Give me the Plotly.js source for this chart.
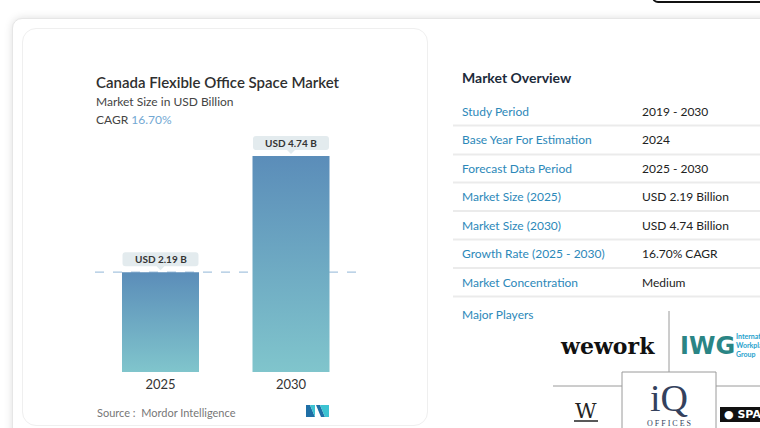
<!DOCTYPE html>
<html>
<head>
<meta charset="utf-8">
<script src="https://cdn.plot.ly/plotly-3.0.1.min.js"></script>
<style>
  html, body { margin: 0; padding: 0; background: #ffffff; overflow: hidden; }
  #page { position: relative; width: 760px; height: 428px; overflow: hidden; }
  .btn { position: absolute; left: 652px; top: -30px; width: 140px; height: 33px;
         border: 2px solid #111; border-radius: 6px; box-sizing: border-box; }
  .card { position: absolute; left: 12px; top: 18px; width: 820px; height: 520px;
          border: 1px solid #e6e6e6; border-radius: 10px; box-sizing: border-box;
          box-shadow: 0 0 9px rgba(0,0,0,0.13); background: #fff; }
  .inner { position: absolute; left: 22px; top: 28px; width: 406px; height: 398px;
           border: 1px solid #efefef; border-radius: 14px; box-sizing: border-box; background: #fff; }
  #chart { position: absolute; left: 0; top: 0; width: 760px; height: 428px; }
</style>
</head>
<body>
<div id="page">
  <div class="btn"></div>
  <div class="card"></div>
  <div class="inner"></div>
  <div id="chart"></div>
</div>
<script>
// Market size (USD billion) by year
const years = ['2025', '2030'];
const marketSize = [2.19, 4.74];
const cagrText = '16.70%';

// Market overview table
const overviewLabels = ['Study Period', 'Base Year For Estimation', 'Forecast Data Period',
  'Market Size (2025)', 'Market Size (2030)', 'Growth Rate (2025 - 2030)', 'Market Concentration'];
const overviewValues = ['2019 - 2030', '2024', '2025 - 2030',
  'USD 2.19 Billion', 'USD 4.74 Billion', '16.70% CAGR', 'Medium'];

const W = 760, H = 428;
const px = x => x / W;
const py = y => 1 - y / H;
const FONT = 'Lato, "Open Sans", sans-serif';

const annotations = [];
const shapes = [];

// left-anchored text; x is the visible left edge of the glyphs
function label(x, y, text, size, color, extra) {
  annotations.push(Object.assign({
    xref: 'paper', yref: 'paper', x: px(x - 2), y: py(y), text: text,
    showarrow: false, xanchor: 'left', yanchor: 'middle', align: 'left',
    font: { family: FONT, size: size, color: color }
  }, extra || {}));
}

// Chart heading
label(96, 82, 'Canada Flexible Office Space Market', 15, '#2f2f2f', { font: { family: FONT, size: 15, color: '#2f2f2f', weight: 600 } });
label(96, 101, 'Market Size in USD Billion', 12, '#444444');
label(96, 119, 'CAGR <span style="color:#72a8d3">' + cagrText + '</span>', 12, '#444444');
label(97, 412, 'Source :  Mordor Intelligence', 11, '#777777');

// Value callouts above each bar: rounded tag with a small pointer, anchored at the bar top
const tagPath = 'M-35,6 L-4,6 L0,2 L4,6 L35,6 Q38,6 38,9 L38,17 Q38,20 35,20 ' +
                'L-35,20 Q-38,20 -38,17 L-38,9 Q-38,6 -35,6 Z';
marketSize.forEach((v, i) => {
  shapes.push({
    type: 'path', xref: 'x', yref: 'y', xsizemode: 'pixel', ysizemode: 'pixel',
    xanchor: i, yanchor: v, path: tagPath,
    fillcolor: '#e3ebee', line: { width: 0 }
  });
  annotations.push({
    xref: 'x', yref: 'y', x: i, y: v, yanchor: 'middle', yshift: 13,
    text: '<b>USD ' + v.toFixed(2) + ' B</b>', showarrow: false,
    font: { family: FONT, size: 10, color: '#333333' }
  });
});

// Reference line at the 2025 value
shapes.push({
  type: 'line', xref: 'paper', yref: 'y', x0: px(95), x1: px(358),
  y0: marketSize[0], y1: marketSize[0], layer: 'below',
  line: { color: '#a8c5df', width: 1.3, dash: 'dash' }
});

// Mordor mark
const mark = [
  ['M306,405 L310,405 L315,417 L306,417 Z', '#1f6fa6'],
  ['M310,405 L315,405 L315,417 Z', '#3cc3d2'],
  ['M316,405 L320,405 L325,417 L321,417 Z', '#1f6fa6'],
  ['M320,405 L329,405 L329,417 L325,417 Z', '#3cc3d2']
];
mark.forEach(([d, c]) => {
  const path = d.replace(/(\d+),(\d+)/g, (m, a, b) => px(+a).toFixed(5) + ',' + py(+b).toFixed(5));
  shapes.push({ type: 'path', xref: 'paper', yref: 'paper', path: path, fillcolor: c, line: { width: 0 } });
});

// Market overview panel
label(462, 77, '<b>Market Overview</b>', 14, '#1d2b3b');
const rowY = [111, 140, 168, 196.5, 225, 253.5, 282];
overviewLabels.forEach((t, i) => {
  label(462, rowY[i], t, 12, '#2c88b9');
  label(642, rowY[i], overviewValues[i], 12, '#222222');
  shapes.push({
    type: 'line', xref: 'paper', yref: 'paper', x0: px(453), x1: px(762),
    y0: py(rowY[i] + 14.5), y1: py(rowY[i] + 14.5),
    line: { color: '#ebebeb', width: 2 }
  });
});
label(462, 314, 'Major Players', 12, '#2c88b9');

// Major players grid
const gridLines = [
  [669, 311, 669, 372], [553, 386, 622, 386], [716, 386, 762, 386],
  [622, 372, 716, 372], [622, 372, 622, 430], [716, 372, 716, 430]
];
gridLines.forEach(([x0, y0, x1, y1]) => shapes.push({
  type: 'line', xref: 'paper', yref: 'paper', x0: px(x0), y0: py(y0), x1: px(x1), y1: py(y1),
  line: { color: '#9a9a9a', width: 1 }
}));

label(560, 346, '<b>wework</b>', 22, '#111111', { font: { family: 'DejaVu Serif', size: 22, color: '#111111' } });
label(680, 346, '<b>IWG</b>', 24, '#2a8585', { font: { family: 'DejaVu Sans', size: 24, color: '#2a8585' } });
label(736, 345, '<b>International<br>Workplace<br>Group</b>', 7, '#27a2cd', { font: { family: FONT, size: 7, color: '#27a2cd' } });
label(575, 411, 'W', 22, '#222222', { font: { family: 'DejaVu Serif', size: 21, color: '#222222' } });
shapes.push({ type: 'line', xref: 'paper', yref: 'paper', x0: px(574), x1: px(598), y0: py(421), y1: py(421), line: { color: '#222222', width: 1.5 } });
annotations.push({ xref: 'paper', yref: 'paper', x: px(669), y: py(398), text: 'iQ', showarrow: false,
  xanchor: 'center', yanchor: 'middle', font: { family: 'Liberation Serif', size: 38, color: '#34415d' } });
annotations.push({ xref: 'paper', yref: 'paper', x: px(669), y: py(423), text: 'O F F I C E S', showarrow: false,
  xanchor: 'center', yanchor: 'middle', font: { family: 'Liberation Serif', size: 8, color: '#34415d' } });
shapes.push({ type: 'rect', xref: 'paper', yref: 'paper', x0: px(720), x1: px(764), y0: py(422), y1: py(407),
  fillcolor: '#111111', line: { width: 0 } });
label(724, 414.5, '<b>● SPACES</b>', 11, '#ffffff', { font: { family: 'DejaVu Sans', size: 11, color: '#ffffff' } });

const trace = {
  type: 'bar', x: years, y: marketSize, width: 0.59,
  marker: { color: '#6ea8c2', line: { width: 0 } },
  hoverinfo: 'skip'
};

const layout = {
  width: W, height: H, margin: { l: 0, r: 0, t: 0, b: 0 },
  paper_bgcolor: 'rgba(0,0,0,0)', plot_bgcolor: 'rgba(0,0,0,0)',
  showlegend: false,
  xaxis: {
    domain: [95.25 / W, 356.25 / W], type: 'category', range: [-0.5, 1.5],
    showgrid: false, zeroline: false, showline: false, ticks: '', ticklabelstandoff: 3,
    tickfont: { family: FONT, size: 13, color: '#333333' }, fixedrange: true
  },
  yaxis: {
    domain: [56 / H, (H - 121.4) / H], range: [0, 5.5], visible: false, fixedrange: true
  },
  annotations: annotations,
  shapes: shapes
};

Plotly.newPlot('chart', [trace], layout, { staticPlot: true, displayModeBar: false }).then(gd => {
  // vertical blue-to-teal fade on the bars
  const svg = gd.querySelector('svg.main-svg');
  const ns = 'http://www.w3.org/2000/svg';
  let defs = svg.querySelector('defs');
  if (!defs) { defs = document.createElementNS(ns, 'defs'); svg.insertBefore(defs, svg.firstChild); }
  const grad = document.createElementNS(ns, 'linearGradient');
  grad.setAttribute('id', 'barFade');
  grad.setAttribute('x1', '0'); grad.setAttribute('y1', '0');
  grad.setAttribute('x2', '0'); grad.setAttribute('y2', '1');
  [['0%', '#5b8db9'], ['100%', '#80c5cc']].forEach(([o, c]) => {
    const s = document.createElementNS(ns, 'stop');
    s.setAttribute('offset', o); s.setAttribute('stop-color', c);
    grad.appendChild(s);
  });
  defs.appendChild(grad);
  gd.querySelectorAll('.barlayer .point path').forEach(p => { p.style.fill = 'url(#barFade)'; });
});
</script>
</body>
</html>
